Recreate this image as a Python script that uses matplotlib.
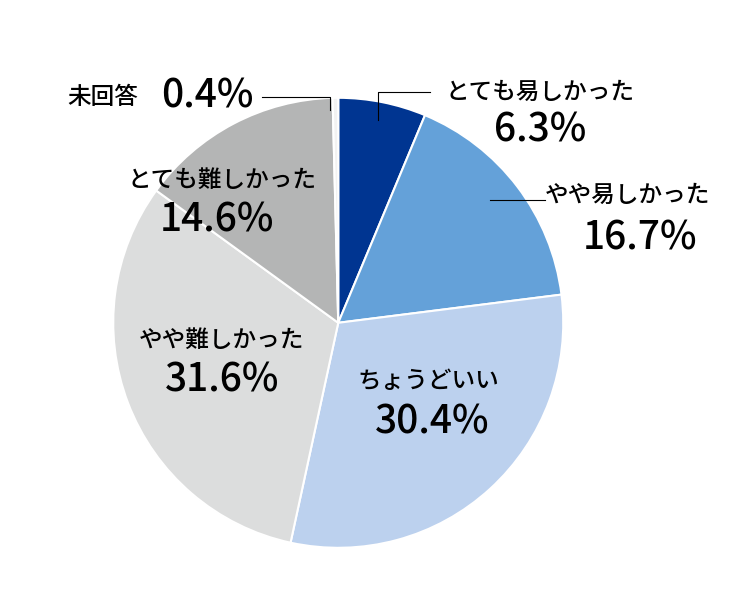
import matplotlib.pyplot as plt

labels = ["とても易しかった", "やや易しかった", "ちょうどいい", "やや難しかった", "とても難しかった", "未回答"]
values = [6.3, 16.7, 30.4, 31.6, 14.6, 0.4]
colors = ["#003591", "#64a1d9", "#bcd1ee", "#dcdddd", "#b4b5b5", "#f2f2f2"]

plt.rcParams["font.family"] = "Noto Sans CJK JP"
W, H = 750, 600
fig = plt.figure(figsize=(7.5, 6), dpi=100)
ax = fig.add_axes([0.451 - 0.3, 0.462 - 0.375, 0.6, 0.75])
ax.pie(values, colors=colors, startangle=90, counterclock=False,
       wedgeprops=dict(edgecolor="white", linewidth=1.5))
ax.set_xlim(-1, 1)
ax.set_ylim(-1, 1)
ax.set_aspect("equal")

def px(x, y):
    return x / W, 1 - y / H

# (label position, percent position) in pixels
pos = [
    ((540, 92), (540, 130)),
    ((628, 195), (640, 238)),
    ((428, 382), (432, 422)),
    ((222, 340), (222, 380)),
    ((222, 180), (217, 220)),
]
for lab, v, (lp, vp) in zip(labels, values, pos):
    fig.text(*px(*lp), lab, fontsize=17, ha="center", va="center", weight="medium")
    fig.text(*px(*vp), f"{v}%", fontsize=28, ha="center", va="center", weight="medium")

fig.text(*px(103, 97), labels[5], fontsize=17, ha="center", va="center", weight="medium")
fig.text(*px(207, 97), f"{values[5]}%", fontsize=28, ha="center", va="center", weight="medium")

def line(xs, ys):
    fig.add_artist(plt.Line2D([x / W for x in xs], [1 - y / H for y in ys],
                              color="black", linewidth=0.8))

line([378, 378, 430], [120, 92, 92])
line([490, 545], [200, 200])
line([262, 330, 330], [97, 97, 110])

fig.savefig("out.png")
